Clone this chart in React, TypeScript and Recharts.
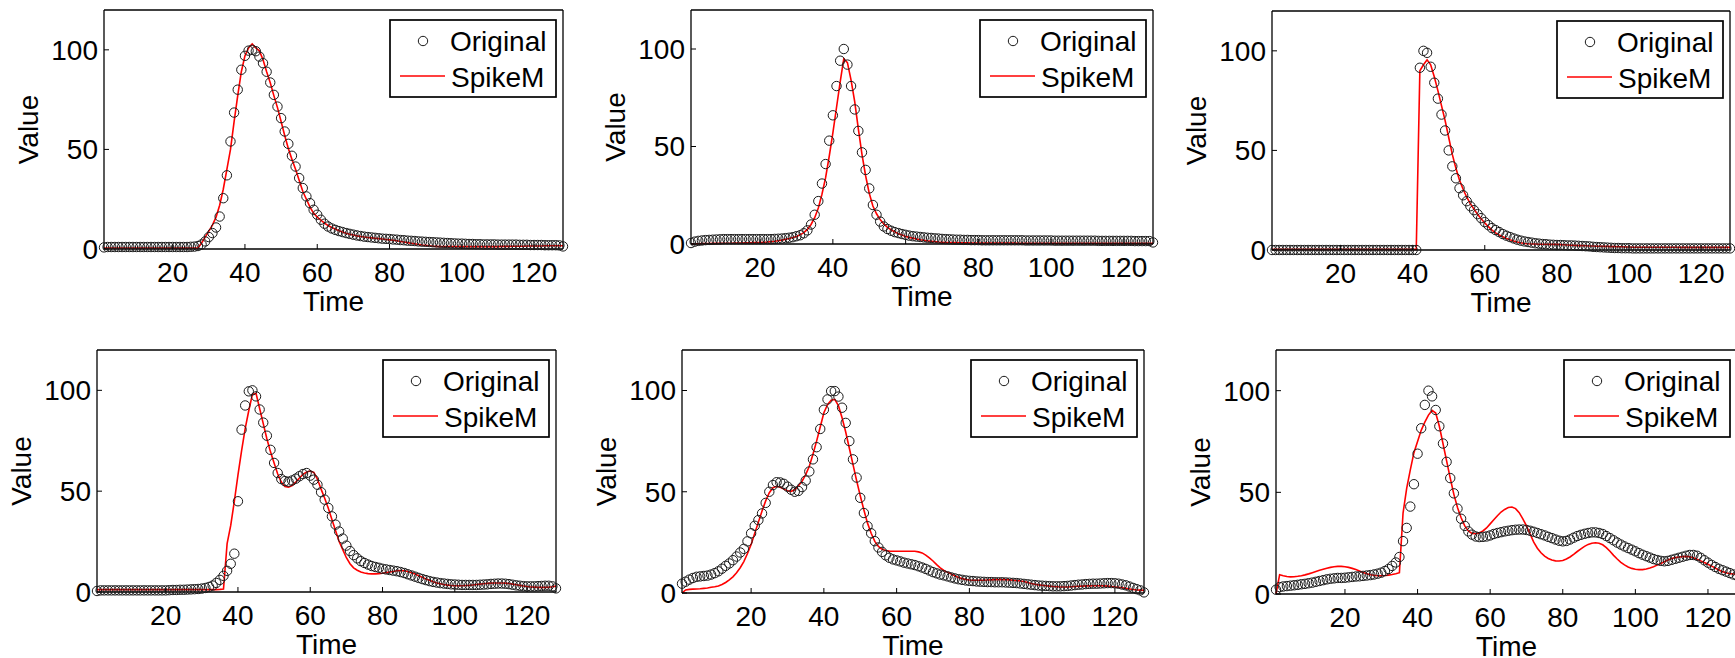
import { ComposedChart, Legend, Line, Scatter, XAxis, YAxis } from "recharts";

// time index 1..128 shared by all six panels
const time: number[] = [];
for (let t = 1; t <= 128; t++) time.push(t);

const xTicks = [20, 40, 60, 80, 100, 120];
const yTicks = [0, 50, 100];

const p1Orig = [
  0.8, 1.0, 1.0, 1.0, 1.0, 1.0, 1.0, 1.0, 1.0, 1.0,
  1.0, 1.0, 1.0, 1.0, 1.0, 1.0, 1.0, 1.0, 1.0, 1.0,
  1.0, 1.0, 1.0, 1.0, 1.1, 1.2, 1.5, 2.3, 3.8, 6.0,
  8.0, 10.8, 16.3, 25.5, 37.0, 54.0, 68.5, 80.0, 90.0, 97.0,
  99.6, 100, 99.3, 96.6, 93.3, 89.0, 83.6, 77.4, 71.5, 65.7,
  59.0, 52.8, 46.8, 41.4, 35.6, 30.6, 26.4, 23.0, 19.7, 17.2,
  14.7, 12.7, 11.3, 10.3, 9.6, 9.0, 8.5, 8.0, 7.6, 7.2,
  6.8, 6.5, 6.2, 6.0, 5.8, 5.6, 5.4, 5.2, 5.1, 5.0,
  4.8, 4.7, 4.5, 4.4, 4.2, 4.1, 4.0, 3.8, 3.7, 3.6,
  3.5, 3.4, 3.3, 3.2, 3.1, 3.0, 2.9, 2.8, 2.7, 2.7,
  2.6, 2.5, 2.5, 2.4, 2.4, 2.3, 2.3, 2.3, 2.3, 2.2,
  2.2, 2.2, 2.2, 2.2, 2.2, 2.1, 2.1, 2.1, 2.0, 2.0,
  2.0, 2.0, 1.9, 1.9, 1.9, 1.9, 1.8, 1.3,
];
const p1Fit = [
  0.5, 0.5, 0.5, 0.5, 0.5, 0.5, 0.5, 0.5, 0.5, 0.5,
  0.5, 0.5, 0.5, 0.5, 0.5, 0.5, 0.5, 0.5, 0.5, 0.5,
  0.5, 0.5, 0.5, 0.5, 0.5, 0.5, 0.5, 3.0, 6.0, 9.0,
  12.0, 16.0, 22.0, 30.0, 40.0, 50.0, 64.0, 77.0, 89.0, 97.0,
  101, 103, 101, 99.5, 95, 89, 83.5, 77, 71, 64,
  57, 50.5, 45, 40, 34.5, 29, 25, 21, 18, 16,
  14.5, 13, 11.8, 10.8, 10, 9.2, 8.5, 7.9, 7.4, 7.0,
  6.6, 6.3, 6.0, 5.8, 5.6, 5.4, 5.2, 5.0, 4.8, 4.6,
  4.4, 4.1, 3.8, 3.5, 3.2, 2.9, 2.6, 2.3, 2.0, 1.8,
  1.6, 1.4, 1.3, 1.2, 1.2, 1.2, 1.2, 1.2, 1.2, 1.2,
  1.2, 1.2, 1.2, 1.2, 1.2, 1.2, 1.2, 1.2, 1.2, 1.2,
  1.3, 1.3, 1.3, 1.4, 1.4, 1.4, 1.4, 1.5, 1.5, 1.5,
  1.5, 1.5, 1.6, 1.6, 1.6, 1.6, 1.6, 1.6,
];

const p2Orig = [
  0.5, 1.2, 1.6, 1.8, 2.0, 2.1, 2.2, 2.3, 2.4, 2.5,
  2.5, 2.5, 2.5, 2.5, 2.5, 2.5, 2.5, 2.5, 2.5, 2.5,
  2.5, 2.5, 2.5, 2.6, 2.7, 2.8, 3.0, 3.2, 3.5, 4.0,
  4.5, 5.5, 7.0, 10.0, 15.0, 22.0, 31.0, 41.0, 53.0, 66.0,
  81.0, 94.0, 100, 92.0, 81.0, 69.0, 58.0, 47.0, 38.0, 28.5,
  20.0, 15.0, 11.5, 9.0, 7.7, 6.8, 6.1, 5.6, 5.1, 4.7,
  4.3, 4.0, 3.8, 3.6, 3.4, 3.2, 3.1, 2.9, 2.8, 2.6,
  2.5, 2.4, 2.3, 2.2, 2.2, 2.1, 2.1, 2.0, 2.0, 2.0,
  1.9, 1.9, 1.9, 1.9, 1.9, 1.9, 1.9, 1.9, 1.9, 1.9,
  1.9, 1.9, 1.8, 1.8, 1.8, 1.8, 1.8, 1.8, 1.8, 1.8,
  1.7, 1.7, 1.7, 1.7, 1.7, 1.7, 1.7, 1.7, 1.7, 1.7,
  1.7, 1.7, 1.6, 1.6, 1.6, 1.6, 1.6, 1.6, 1.6, 1.6,
  1.6, 1.6, 1.5, 1.5, 1.5, 1.5, 1.5, 0.8,
];
const p2Fit = [
  0.0, 0.1, 0.1, 0.2, 0.2, 0.2, 0.3, 0.3, 0.3, 0.4,
  0.4, 0.4, 0.5, 0.5, 0.5, 0.6, 0.6, 0.7, 0.7, 0.8,
  0.9, 1.0, 1.2, 1.4, 1.7, 2.0, 2.4, 2.8, 3.3, 3.9,
  4.7, 5.8, 7.5, 10.0, 13.5, 18.5, 25.5, 34.0, 45.0, 57.0,
  70.0, 83.0, 95.0, 93.0, 84.0, 73.0, 59.0, 46.0, 35.0, 26.0,
  19.5, 15.5, 12.5, 10.3, 8.5, 7.3, 6.2, 5.3, 4.6, 3.9,
  3.4, 3.0, 2.6, 2.2, 1.9, 1.6, 1.4, 1.2, 1.0, 0.9,
  0.8, 0.8, 0.7, 0.7, 0.6, 0.6, 0.6, 0.5, 0.5, 0.5,
  0.5, 0.5, 0.5, 0.5, 0.5, 0.5, 0.5, 0.5, 0.5, 0.5,
  0.4, 0.4, 0.4, 0.4, 0.4, 0.4, 0.4, 0.4, 0.4, 0.4,
  0.4, 0.4, 0.4, 0.4, 0.4, 0.4, 0.4, 0.4, 0.4, 0.4,
  0.4, 0.4, 0.4, 0.4, 0.3, 0.3, 0.3, 0.3, 0.3, 0.3,
  0.3, 0.3, 0.3, 0.3, 0.3, 0.3, 0.3, 0.3,
];

const p3Orig = [
  0, 0, 0, 0, 0, 0, 0, 0, 0, 0,
  0, 0, 0, 0, 0, 0, 0, 0, 0, 0,
  0, 0, 0, 0, 0, 0, 0, 0, 0, 0,
  0, 0, 0, 0, 0, 0, 0, 0, 0, 0,
  0, 91.5, 100, 99, 92, 84, 76, 68, 60, 50,
  42, 36, 31, 27.5, 24.5, 22, 20, 18, 16, 14,
  12.5, 11, 10, 9, 8, 7.2, 6.5, 5.8, 5.2, 4.7,
  4.3, 4.0, 3.7, 3.4, 3.2, 3.0, 2.9, 2.7, 2.6, 2.5,
  2.5, 2.4, 2.3, 2.3, 2.2, 2.1, 2.0, 1.9, 1.8, 1.6,
  1.5, 1.4, 1.3, 1.2, 1.1, 1.0, 1.0, 0.9, 0.9, 0.9,
  0.8, 0.8, 0.8, 0.8, 0.8, 0.8, 0.8, 0.8, 0.8, 0.8,
  0.8, 0.8, 0.8, 0.8, 0.8, 0.8, 0.8, 0.8, 0.8, 0.8,
  0.8, 0.8, 0.8, 0.8, 0.8, 0.8, 0.8, 0.8,
];
const p3Fit = [
  0.3, 0.3, 0.3, 0.3, 0.3, 0.3, 0.3, 0.3, 0.3, 0.3,
  0.3, 0.3, 0.3, 0.3, 0.3, 0.3, 0.3, 0.3, 0.3, 0.3,
  0.3, 0.3, 0.3, 0.3, 0.3, 0.3, 0.3, 0.3, 0.3, 0.3,
  0.3, 0.3, 0.3, 0.3, 0.3, 0.3, 0.3, 0.3, 0.3, 0.3,
  0.3, 90, 93, 95.5, 93, 87, 80, 72.5, 65, 56.5,
  48, 41, 35, 30.5, 26.5, 23.3, 20.5, 18, 15.7, 13.6,
  11.7, 10, 8.6, 7.5, 6.6, 5.8, 5.1, 4.5, 4.0, 3.6,
  3.3, 3.1, 3.0, 3.0, 2.9, 2.9, 2.9, 2.8, 2.8, 2.8,
  2.7, 2.6, 2.5, 2.4, 2.3, 2.2, 2.2, 2.1, 2.0, 2.0,
  1.9, 1.9, 1.8, 1.8, 1.7, 1.7, 1.6, 1.6, 1.5, 1.5,
  1.4, 1.4, 1.4, 1.4, 1.4, 1.4, 1.4, 1.4, 1.4, 1.4,
  1.4, 1.4, 1.4, 1.3, 1.3, 1.3, 1.3, 1.3, 1.3, 1.3,
  1.3, 1.3, 1.3, 1.3, 1.3, 1.3, 1.3, 1.3,
];

const p4Orig = [
  0.5, 0.8, 0.8, 0.8, 0.8, 0.8, 0.8, 0.8, 0.8, 0.8,
  0.8, 0.8, 0.8, 0.8, 0.8, 0.8, 0.8, 0.8, 0.8, 0.8,
  0.9, 1.0, 1.0, 1.1, 1.1, 1.2, 1.3, 1.4, 1.5, 1.7,
  2.0, 2.5, 3.2, 4.5, 6.0, 8.0, 10.5, 14.0, 19.0, 45.0,
  80.5, 92.5, 99.5, 100, 97.0, 90.5, 84.0, 77.5, 70.5, 64.0,
  59.0, 56.0, 55.0, 54.7, 55.3, 56.2, 57.4, 58.5, 59.0, 57.7,
  55.7, 53.2, 49.5, 45.8, 41.7, 37.5, 33.4, 30.0, 26.5, 23.0,
  20.3, 18.3, 16.7, 15.3, 14.4, 13.6, 12.9, 12.4, 12.0, 11.5,
  11.2, 10.9, 10.6, 10.3, 9.9, 9.4, 8.8, 8.2, 7.6, 7.0,
  6.4, 5.9, 5.4, 5.0, 4.7, 4.4, 4.2, 4.0, 3.8, 3.7,
  3.6, 3.5, 3.5, 3.5, 3.5, 3.5, 3.6, 3.7, 3.8, 4.0,
  4.1, 4.2, 4.2, 4.1, 3.9, 3.6, 3.3, 3.1, 2.9, 2.8,
  2.8, 2.8, 2.9, 3.0, 3.1, 3.1, 2.8, 1.8,
];
const p4Fit = [
  1.2, 1.2, 1.2, 1.2, 1.2, 1.2, 1.2, 1.2, 1.2, 1.2,
  1.2, 1.2, 1.2, 1.2, 1.2, 1.2, 1.2, 1.2, 1.2, 1.2,
  1.2, 1.2, 1.2, 1.2, 1.2, 1.2, 1.2, 1.2, 1.2, 1.2,
  1.2, 1.2, 1.2, 1.2, 1.3, 1.5, 24, 33, 45, 58,
  70, 81, 90, 98, 98.5, 91, 83.5, 76, 69.5, 64,
  58.5, 54.5, 52.3, 52, 52.8, 54.5, 56.5, 58.3, 59.5, 60,
  59.3, 56, 51, 46.5, 41.5, 36, 30.5, 25, 21, 17,
  14, 12, 10.8, 9.9, 9.4, 9.1, 9.0, 9.0, 9.1, 9.3,
  9.6, 9.9, 10.2, 10.5, 10.6, 10.5, 10.2, 9.6, 8.9, 8.1,
  7.3, 6.5, 5.8, 5.1, 4.5, 4.1, 3.7, 3.4, 3.2, 3.1,
  3.1, 3.1, 3.2, 3.3, 3.5, 3.7, 3.9, 4.1, 4.3, 4.4,
  4.5, 4.5, 4.5, 4.4, 4.2, 3.9, 3.6, 3.3, 3.0, 2.7,
  2.5, 2.4, 2.3, 2.3, 2.3, 2.4, 2.6, 2.9,
];

const p5Orig = [
  4.6, 5.6, 6.6, 7.4, 8.0, 8.2, 8.4, 8.6, 9.1, 9.8,
  10.7, 12.0, 13.4, 14.6, 16.2, 18.0, 20.0, 21.8, 25.5, 29.5,
  33.2, 36.0, 39.3, 44.5, 50.0, 53.3, 54.7, 54.6, 53.9, 52.5,
  51.0, 50.0, 50.4, 52.3, 55.5, 60.0, 66.0, 72.0, 81.0, 90.5,
  95.6, 99.7, 99.7, 97.0, 91.5, 84.0, 75.0, 66.0, 57.0, 47.0,
  39.5, 33.0, 29.5, 25.6, 22.5, 20.3, 18.6, 17.4, 16.6, 16.1,
  15.6, 15.0, 14.6, 14.2, 13.8, 13.2, 12.6, 11.9, 11.1, 10.3,
  9.7, 9.1, 8.7, 8.2, 7.7, 7.2, 6.8, 6.5, 6.2, 6.0,
  5.9, 5.7, 5.6, 5.5, 5.4, 5.4, 5.3, 5.3, 5.3, 5.2,
  5.1, 5.0, 4.9, 4.7, 4.5, 4.3, 4.1, 3.9, 3.7, 3.6,
  3.5, 3.4, 3.3, 3.3, 3.3, 3.4, 3.5, 3.7, 3.9, 4.1,
  4.2, 4.4, 4.5, 4.6, 4.6, 4.7, 4.8, 4.9, 4.9, 4.8,
  4.6, 4.2, 3.8, 3.2, 2.5, 1.9, 1.3, 0.3,
];
const p5Fit = [
  0.0, 1.5, 1.8, 1.9, 2.0, 2.1, 2.3, 2.5, 2.8, 3.1,
  3.5, 4.2, 5.2, 6.5, 8.0, 10.0, 12.5, 15.5, 19.5, 24.0,
  29.5, 35.0, 40.5, 45.5, 49.5, 52.0, 52.7, 52.2, 51.3, 50.5,
  50.2, 51.0, 53.0, 55.2, 58.5, 62.6, 68.5, 75.0, 82.0, 89.0,
  93.0, 95.2, 95.6, 92.5, 86.5, 79.5, 71.5, 63.5, 55.5, 48.0,
  41.0, 34.5, 29.5, 25.5, 23.0, 21.6, 21.0, 20.7, 20.6, 20.6,
  20.6, 20.6, 20.6, 20.6, 20.6, 20.3, 19.8, 18.7, 17.3, 15.8,
  14.0, 12.4, 11.1, 10.2, 9.4, 8.5, 7.7, 7.1, 6.7, 6.4,
  6.3, 6.3, 6.3, 6.3, 6.4, 6.5, 6.6, 6.6, 6.6, 6.6,
  6.5, 6.3, 6.1, 5.9, 5.7, 5.2, 4.7, 4.3, 4.0, 3.8,
  3.6, 3.4, 3.2, 3.1, 3.0, 3.0, 3.0, 3.1, 3.2, 3.3,
  3.4, 3.5, 3.5, 3.6, 3.6, 3.6, 3.5, 3.4, 3.2, 3.0,
  2.8, 2.6, 2.3, 2.0, 1.7, 1.5, 1.4, 1.3,
];

const p6Orig = [
  2.1, 3.4, 3.7, 3.9, 4.1, 4.3, 4.5, 4.8, 5.0, 5.3,
  5.6, 6.0, 6.4, 6.8, 7.2, 7.5, 7.7, 7.9, 7.9, 8.0,
  8.2, 8.4, 8.6, 8.7, 8.9, 9.1, 9.3, 9.6, 10.0, 10.5,
  11.3, 12.3, 13.8, 15.5, 18.2, 26.0, 32.5, 43.0, 54.0, 69.0,
  81.5, 93.0, 100, 97.2, 90.5, 82.5, 74.0, 65.0, 57.0, 49.5,
  42.0, 37.0, 33.5, 30.8, 29.2, 28.3, 28.0, 28.1, 28.3, 28.8,
  29.5, 30.0, 30.4, 30.8, 31.1, 31.4, 31.6, 31.7, 31.7, 31.5,
  31.1, 30.6, 30.0, 29.4, 28.8, 28.1, 27.5, 26.8, 26.2, 25.9,
  26.1, 26.8, 27.7, 28.5, 29.1, 29.6, 30.0, 30.3, 30.3, 30.0,
  29.5, 28.5, 27.5, 26.4, 25.3, 24.3, 23.4, 22.6, 21.8, 21.0,
  20.1, 19.3, 18.6, 17.9, 17.2, 16.7, 16.3, 16.1, 16.3, 16.8,
  17.3, 17.8, 18.3, 18.8, 19.2, 19.2, 18.8, 17.8, 16.6, 15.4,
  14.3, 13.3, 12.4, 11.7, 11.0, 10.3, 9.6, 9.0,
];
const p6Fit = [
  0.0, 9.5, 9.0, 8.6, 8.4, 8.5, 8.7, 9.0, 9.4, 9.9,
  10.5, 11.1, 11.7, 12.2, 12.7, 13.1, 13.4, 13.6, 13.6, 13.4,
  13.1, 12.6, 12.0, 11.3, 10.6, 10.0, 9.5, 9.2, 9.0, 9.0,
  9.1, 9.3, 9.6, 10.0, 10.5, 39.8, 52.0, 61.0, 69.5, 75.0,
  80.5, 84.5, 88.0, 90.3, 89.0, 82.5, 74.0, 65.5, 57.0, 49.0,
  42.5, 37.5, 33.5, 31.0, 29.8, 29.6, 30.0, 31.0, 32.5, 34.5,
  36.5, 38.5, 40.3, 41.6, 42.5, 42.8, 42.0, 40.0, 37.0, 33.5,
  29.5, 25.5, 22.5, 20.3, 18.6, 17.5, 16.7, 16.3, 16.2, 16.5,
  17.2, 18.2, 19.5, 20.9, 22.2, 23.4, 24.4, 25.0, 25.2, 25.0,
  24.2, 22.8, 21.0, 19.0, 17.2, 15.6, 14.3, 13.3, 12.6, 12.2,
  12.0, 12.0, 12.3, 12.8, 13.4, 14.2, 15.0, 15.9, 16.7, 17.4,
  17.9, 18.2, 18.4, 18.5, 18.3, 17.8, 17.1, 16.3, 15.5, 14.6,
  13.7, 12.8, 11.8, 11.0, 10.4, 10.0, 9.8, 9.6,
];

// plot-area rectangles (page pixels) for the 2x3 grid
const panels = [
  { orig: p1Orig, fit: p1Fit, left: 104, right: 563, top: 10, bottom: 249 },
  { orig: p2Orig, fit: p2Fit, left: 691, right: 1153, top: 10, bottom: 244 },
  { orig: p3Orig, fit: p3Fit, left: 1272, right: 1730, top: 11, bottom: 250 },
  { orig: p4Orig, fit: p4Fit, left: 97, right: 556, top: 350, bottom: 592 },
  { orig: p5Orig, fit: p5Fit, left: 682, right: 1144, top: 350, bottom: 593 },
  { orig: p6Orig, fit: p6Fit, left: 1276, right: 1737, top: 350, bottom: 594 },
];

const FONT = 28;
const RED = "#ff0000";
const MARK = "#1a1a1a";
const MARK_R = 4.7;
const axisLine = { stroke: "#000", strokeWidth: 1.3 };
const tickLine = { stroke: "#000", strokeWidth: 1 };
const tickFont = { fill: "#000", fontSize: FONT };

const AXIS_L = 100; // room for y tick labels + "Value"
const AXIS_B = 75; // room for x tick labels + "Time"

function OpenCircle(props: any) {
  const { cx, cy } = props;
  if (cx == null || cy == null) return null;
  return <circle cx={cx} cy={cy} r={MARK_R} fill="none" stroke={MARK} strokeWidth={1} />;
}

function ValueLabel(props: any) {
  const vb = props.viewBox;
  const x = vb.x + 34;
  const y = vb.y + vb.height / 2;
  return (
    <text x={x} y={y} transform={`rotate(-90 ${x} ${y})`} textAnchor="middle" fontSize={FONT} fill="#000">
      Value
    </text>
  );
}

function TimeLabel(props: any) {
  const vb = props.viewBox;
  return (
    <text x={vb.x + vb.width / 2} y={vb.y + 61.5} textAnchor="middle" fontSize={FONT} fill="#000">
      Time
    </text>
  );
}

function LegendBox() {
  return (
    <svg width={168} height={79} style={{ display: "block" }}>
      <rect x={1} y={1} width={166} height={77} fill="#fff" stroke="#000" strokeWidth={1.7} />
      <circle cx={34} cy={22} r={MARK_R} fill="none" stroke={MARK} strokeWidth={1} />
      <text x={61} y={32} fontSize={FONT} fill="#000">Original</text>
      <line x1={11} x2={56} y1={57} y2={57} stroke={RED} strokeWidth={1.6} />
      <text x={62} y={68} fontSize={FONT} fill="#000">SpikeM</text>
    </svg>
  );
}

function Panel({ orig, fit, left, right, top, bottom }: (typeof panels)[number]) {
  const rows = time.map((t, i) => ({ t, orig: orig[i], fit: fit[i] }));
  const plotW = right - left;
  const plotH = bottom - top;
  const width = AXIS_L + plotW + 10;
  const height = 10 + plotH + AXIS_B;
  return (
    <div style={{ position: "absolute", left: left - AXIS_L, top: top - 10 }}>
      <ComposedChart width={width} height={height} data={rows} margin={{ top: 0, right: 0, bottom: 0, left: 0 }}>
        <XAxis
          xAxisId="b"
          dataKey="t"
          type="number"
          domain={[1, 128]}
          ticks={xTicks}
          interval={0}
          height={AXIS_B}
          tickSize={-5}
          tickMargin={18}
          tick={tickFont}
          axisLine={axisLine}
          tickLine={tickLine}
          label={{ content: TimeLabel }}
        />
        <XAxis
          xAxisId="t"
          orientation="top"
          dataKey="t"
          type="number"
          domain={[1, 128]}
          ticks={xTicks}
          interval={0}
          height={10}
          tickSize={-5}
          tick={false}
          axisLine={axisLine}
          tickLine={tickLine}
        />
        <YAxis
          yAxisId="l"
          type="number"
          domain={[0, 120]}
          ticks={yTicks}
          interval={0}
          width={AXIS_L}
          tickSize={-5}
          tickMargin={11}
          tick={tickFont}
          axisLine={axisLine}
          tickLine={tickLine}
          label={{ content: ValueLabel }}
        />
        <YAxis
          yAxisId="r"
          orientation="right"
          type="number"
          domain={[0, 120]}
          ticks={yTicks}
          interval={0}
          width={10}
          tickSize={-5}
          tick={false}
          axisLine={axisLine}
          tickLine={tickLine}
        />
        <Scatter xAxisId="b" yAxisId="l" dataKey="orig" shape={OpenCircle} isAnimationActive={false} />
        <Line
          xAxisId="b"
          yAxisId="l"
          dataKey="fit"
          type="linear"
          stroke={RED}
          strokeWidth={1.6}
          dot={false}
          activeDot={false}
          isAnimationActive={false}
        />
        <Legend
          layout="vertical"
          align="center"
          verticalAlign="middle"
          content={LegendBox}
          wrapperStyle={{ left: AXIS_L + plotW - 7.5 - 167, top: 10 + 8.5, width: 168, height: 79 }}
        />
      </ComposedChart>
    </div>
  );
}

export default function App() {
  return (
    <div
      style={{
        position: "absolute",
        left: 0,
        top: 0,
        width: 1735,
        height: 658,
        overflow: "hidden",
        background: "#fff",
        fontFamily: '"Liberation Sans", Arial, sans-serif',
      }}
    >
      {panels.map((p, i) => (
        <Panel key={i} {...p} />
      ))}
    </div>
  );
}
